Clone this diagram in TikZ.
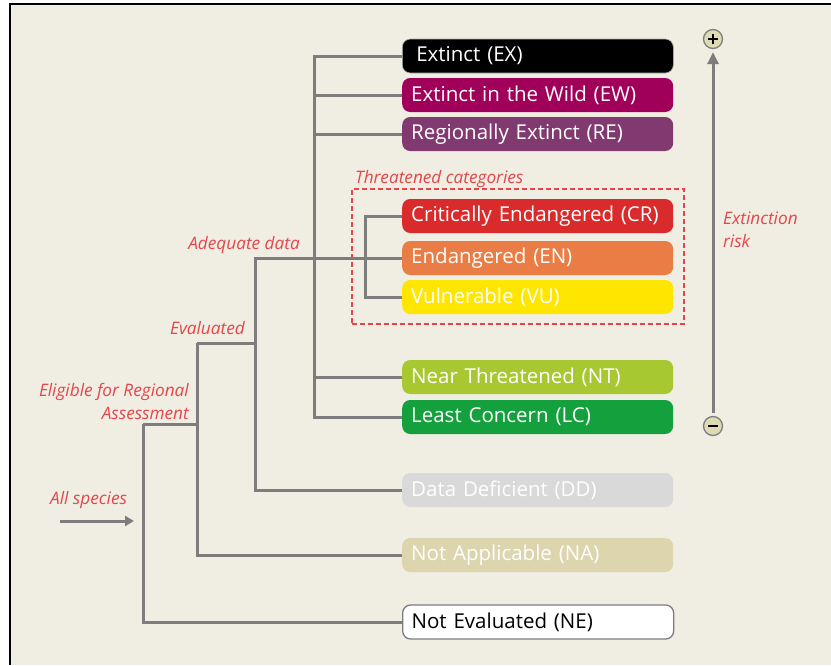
\documentclass[tikz,border=0pt]{standalone}
\usepackage{fontspec}
\setmainfont{Open Sans}
\usetikzlibrary{arrows.meta}
\definecolor{bgc}{RGB}{240,237,227}
\definecolor{conncol}{RGB}{125,125,125}
\definecolor{lblred}{RGB}{228,70,75}
\definecolor{cEX}{RGB}{0,0,0}
\definecolor{cEW}{RGB}{161,0,90}
\definecolor{cRE}{RGB}{128,58,112}
\definecolor{cCR}{RGB}{217,43,43}
\definecolor{cEN}{RGB}{233,125,69}
\definecolor{cVU}{RGB}{255,230,0}
\definecolor{cNT}{RGB}{168,200,50}
\definecolor{cLC}{RGB}{20,160,60}
\definecolor{cDD}{RGB}{217,217,217}
\definecolor{cNA}{RGB}{220,213,174}
\definecolor{circfill}{RGB}{222,218,180}
\tikzset{
  cat/.style={rectangle, rounded corners=8pt, anchor=west, minimum height=34pt,
    inner xsep=9pt, inner ysep=0pt, text width=253pt, align=left,
    text=white, font=\fontsize{20.5}{24}\selectfont},
  conn/.style={draw=conncol, line width=3pt},
  lbl/.style={text=lblred, font=\fontsize{17.2}{23}\selectfont\itshape, inner sep=0pt},
  sign/.style={circle, minimum size=19pt, inner sep=0pt, fill=circfill, draw=conncol, line width=1.3pt},
}
\begin{document}
\begin{tikzpicture}[x=1pt,y=-1pt]
\useasboundingbox (0,0) rectangle (831,665);
\fill[white] (0,0) rectangle (831,665);
\fill[bgc] (10,4) rectangle (831,665);
\draw[black, line width=1.6pt] (10,665) -- (10,4) -- (831,4);

% category boxes
\node[cat, fill=cEX, draw=conncol!60, line width=0.6pt] (EX) at (402,56) {\hspace*{5pt}Extinct (EX)};
\node[cat, fill=cEW] (EW) at (402,95) {Extinct in the Wild (EW)};
\node[cat, fill=cRE] (RE) at (402,134) {Regionally Extinct (RE)};
\node[cat, fill=cCR] (CR) at (402,216) {Critically Endangered (CR)};
\node[cat, fill=cEN] (EN) at (402,258) {Endangered (EN)};
\node[cat, fill=cVU] (VU) at (402,297) {Vulnerable (VU)};
\node[cat, fill=cNT] (NT) at (402,377) {Near Threatened (NT)};
\node[cat, fill=cLC] (LC) at (402,417) {Least Concern (LC)};
\node[cat, fill=cDD] (DD) at (402,490) {Data Deficient (DD)};
\node[cat, fill=cNA] (NA) at (402,555) {Not Applicable (NA)};
\node[cat, fill=white, draw=conncol, line width=1.3pt, text=black] (NE) at (402,622) {Not Evaluated (NE)};

% dashed threatened box
\node[draw=lblred, dashed, dash pattern=on 5pt off 3pt, line width=2pt, minimum width=332pt, minimum height=135pt, inner sep=0pt] (TB) at (518,256.5) {};
\node[lbl, anchor=south west] (TL) at (355,188) {Threatened categories};

% junction coordinates
\coordinate (vA) at (314,258);
\coordinate (vT) at (365,258);
\coordinate (aD) at (255,258);
\coordinate (ev) at (197,343);
\coordinate (el) at (143,424);
\coordinate (as1) at (60,521);
\coordinate (as2) at (134,521);

% connectors
\draw[conn] (EX.west) -| (vA |- LC.west) -- (LC.west);
\draw[conn] (EW.west) -- (vA |- EW.west);
\draw[conn] (RE.west) -- (vA |- RE.west);
\draw[conn] (NT.west) -- (vA |- NT.west);
\draw[conn] (CR.west) -| (vT |- VU.west) -- (VU.west);
\draw[conn] (DD.west) -| (aD) -- (EN.west);
\draw[conn] (ev) -- (ev -| aD);
\draw[conn] (NA.west) -| (ev);
\draw[conn] (el) -- (el -| ev);
\draw[conn] (NE.west) -| (el);
\draw[conn, -{Triangle[length=9pt,width=10pt]}] (as1) -- (as2);

% labels
\node[lbl, anchor=east] (LAD) at (300,245) {Adequate data};
\node[lbl, anchor=east] (LEV) at (245,328) {Evaluated};
\node[lbl, anchor=east, align=right] (LEL) at (189,401) {Eligible for Regional\\Assessment};
\node[lbl, anchor=west] (LAS) at (50,500) {All species};
\node[lbl, anchor=west, align=left] (LXR) at (723,230) {Extinction\\risk};

% extinction risk axis
\node[sign] (PL) at (713,39) {};
\node[sign] (MI) at (713,426) {};
\draw[black, line width=1.6pt] ([xshift=-5pt]PL.center) -- ([xshift=5pt]PL.center) ([yshift=-5pt]PL.center) -- ([yshift=5pt]PL.center);
\draw[black, line width=1.6pt] ([xshift=-5pt]MI.center) -- ([xshift=5pt]MI.center);
\draw[conn, -{Triangle[length=12pt,width=11pt]}, shorten >=3pt, shorten <=3pt] (MI.north) -- (PL.south);
\end{tikzpicture}
\end{document}
